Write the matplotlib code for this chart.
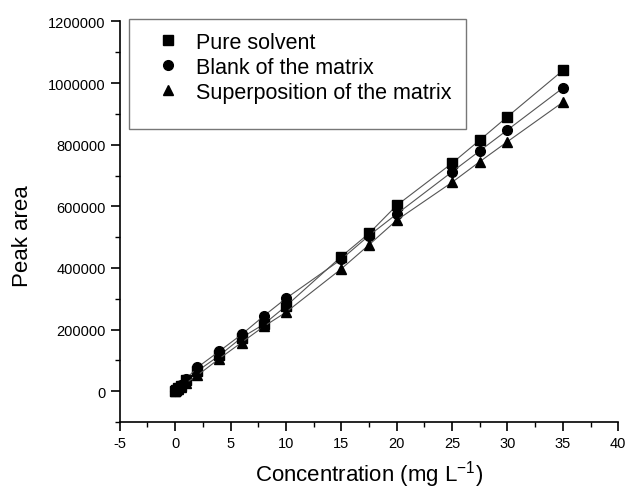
import matplotlib.pyplot as plt
from matplotlib.patches import Rectangle
from matplotlib.ticker import MultipleLocator, FormatStrFormatter

plt.rcParams['font.family'] = ['Liberation Sans', 'DejaVu Sans']
plt.rcParams['axes.unicode_minus'] = False
plt.rcParams['mathtext.fontset'] = 'custom'
plt.rcParams['mathtext.rm'] = 'Liberation Sans'

conc = [0, 0.1, 0.25, 0.5, 1, 2, 4, 6, 8, 10, 15, 17.5, 20, 25, 27.5, 30, 35]
pure = [0, 3600, 9000, 18000, 35000, 65000, 116000, 174000, 217000, 276000,
        437000, 512000, 603000, 740000, 815000, 891000, 1041000]
blank = [0, 4000, 10000, 20000, 40000, 77000, 130000, 184000, 244000, 301000,
         428000, 505000, 575000, 712000, 780000, 848000, 984000]
superpos = [0, 2700, 7000, 13000, 27000, 51000, 106000, 158000, 210000, 256000,
            397000, 475000, 555000, 678000, 745000, 810000, 938000]

fig = plt.figure(figsize=(6.27, 4.89), dpi=100)
ax = fig.add_axes([0.191, 0.135, 0.795, 0.819])

ax.plot(conc, pure, color='#555555', lw=0.8, marker='s', ms=6.5, mfc='black', mec='black',
        label='Pure solvent')
ax.plot(conc, blank, color='#555555', lw=0.8, marker='o', ms=7, mfc='black', mec='black',
        label='Blank of the matrix')
ax.plot(conc, superpos, color='#555555', lw=0.8, marker='^', ms=7.5, mfc='black', mec='black',
        label='Superposition of the matrix')

ax.set_xlim(-5, 40)
ax.set_ylim(-100000, 1200000)
ax.xaxis.set_major_locator(MultipleLocator(5))
ax.xaxis.set_minor_locator(MultipleLocator(2.5))
ax.yaxis.set_major_locator(MultipleLocator(200000))
ax.yaxis.set_minor_locator(MultipleLocator(100000))
ax.yaxis.set_major_formatter(FormatStrFormatter('%d'))
ax.spines['top'].set_visible(False)
ax.spines['right'].set_visible(False)
ax.spines['left'].set_linewidth(1.2)
ax.spines['bottom'].set_linewidth(1.2)
ax.tick_params(which='major', direction='out', length=6.5, width=1.2, labelsize=10.5)
ax.tick_params(which='minor', direction='out', length=3.5, width=1.0)

ax.set_xlabel('Concentration (mg L$^{-1}$)', fontsize=16, labelpad=6)
ax.set_ylabel('Peak area', fontsize=16)
ax.yaxis.set_label_coords(-0.175, 0.466)

leg = ax.legend(loc='upper left', bbox_to_anchor=(0.045, 1.012), frameon=False,
                fontsize=15.5, handlelength=1.0, handletextpad=0.8, labelspacing=0.18,
                borderaxespad=0.3)
for h in leg.legend_handles:
    h.set_linestyle('none')

ax.add_patch(Rectangle((129 / 627, 1 - 130 / 489), (466 - 129) / 627, 110 / 489,
                       transform=fig.transFigure, fill=False, edgecolor='#777777',
                       lw=1.0, clip_on=False))

fig.savefig('out.png', dpi=100)
